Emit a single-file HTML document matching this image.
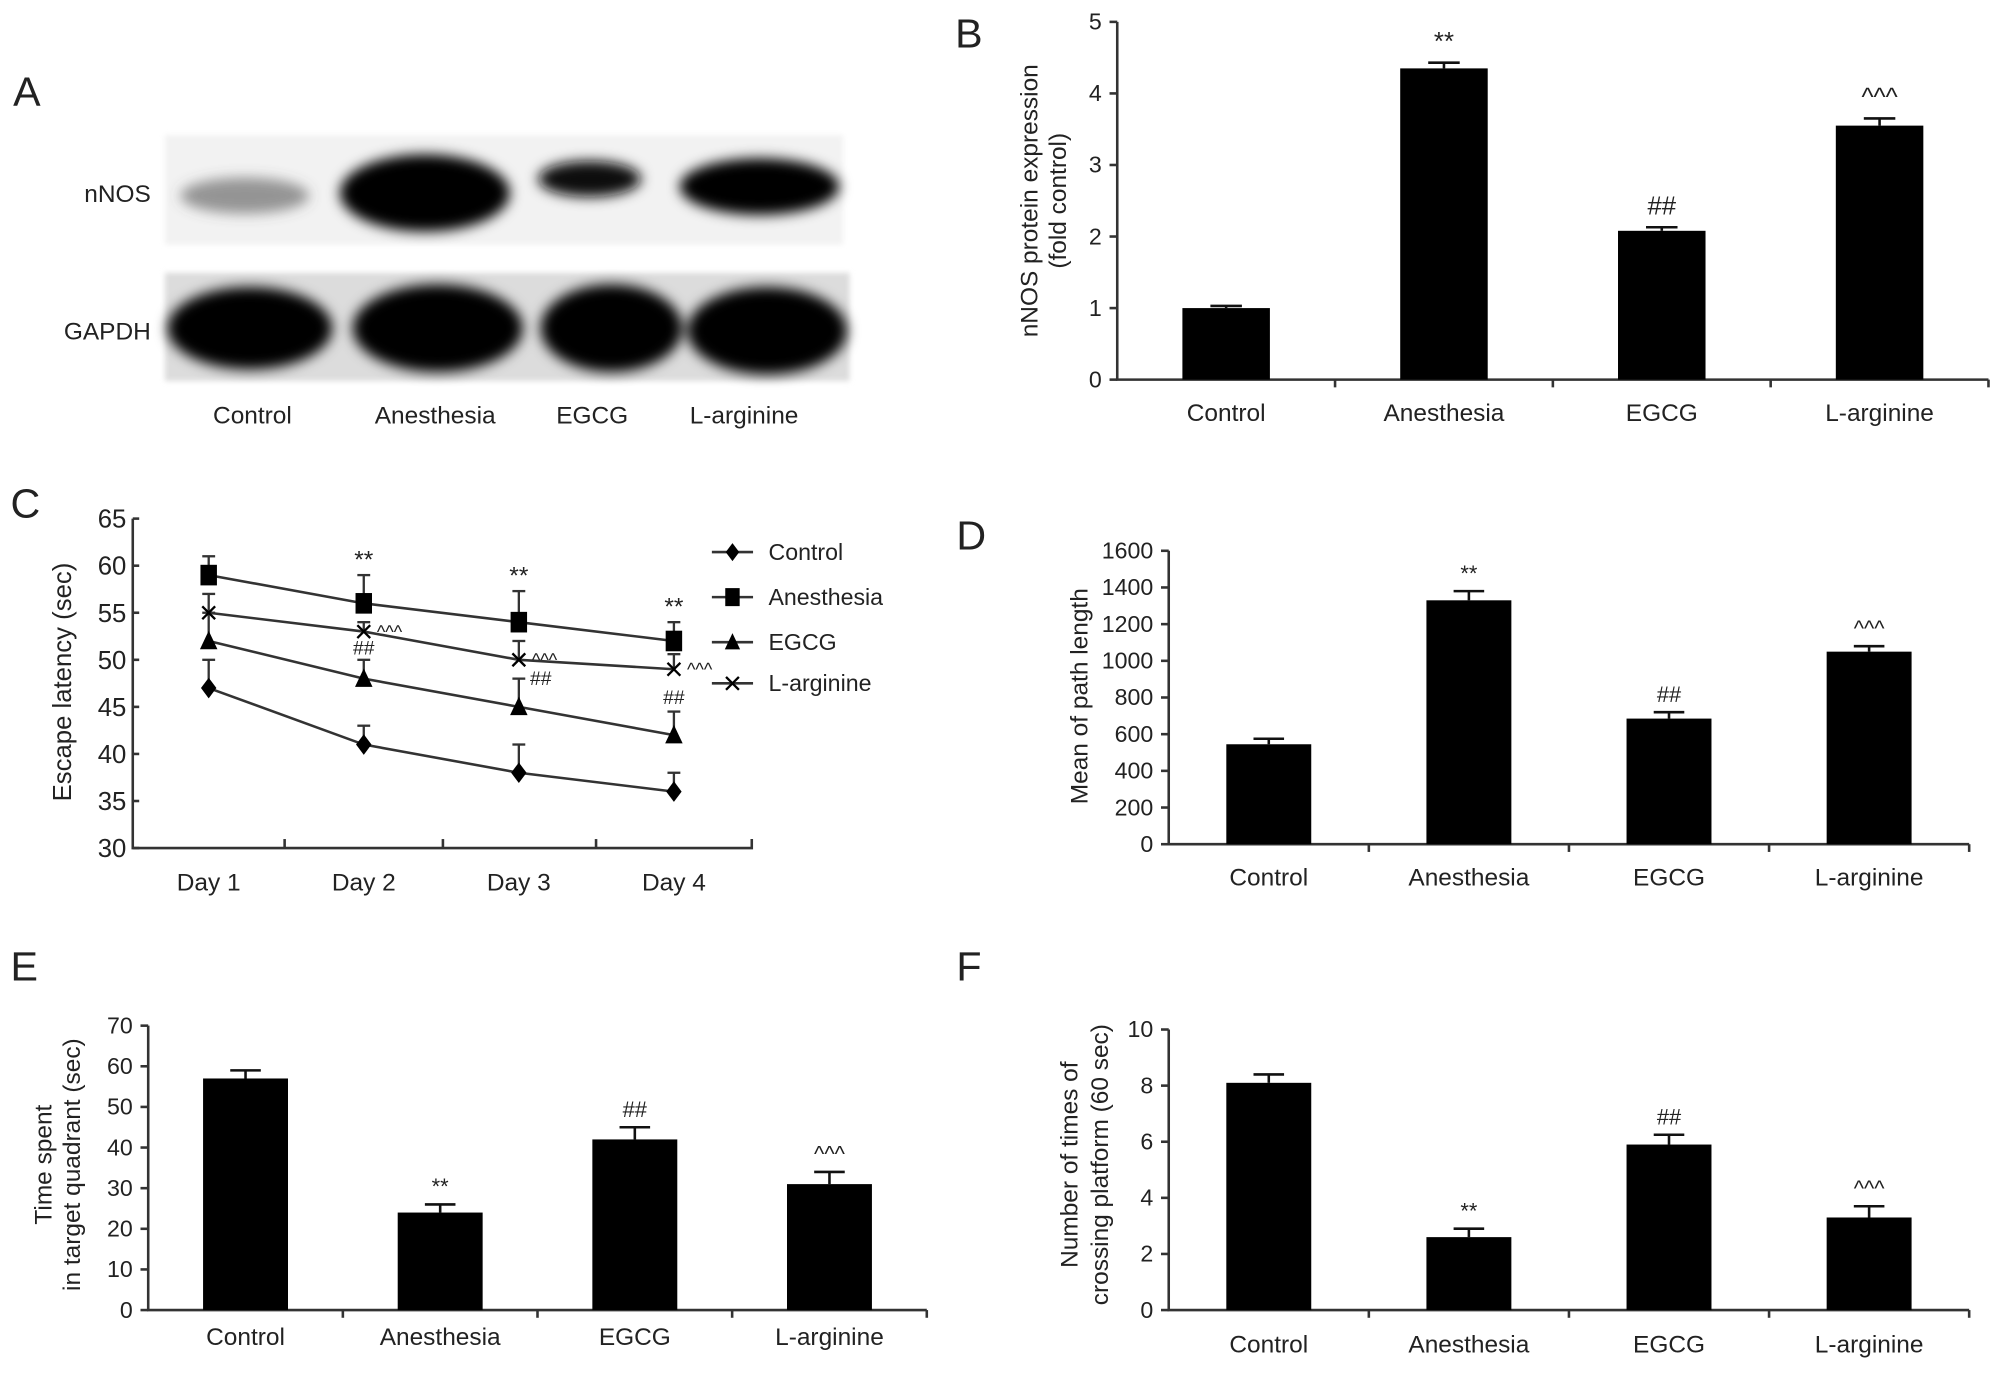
<!DOCTYPE html>
<html><head><meta charset="utf-8"><style>
html,body{margin:0;padding:0;background:#fff}
svg{display:block}
text{font-family:"Liberation Sans",Arial,sans-serif;fill:#222}
</style></head><body>
<svg id="fig" width="2008" height="1395" viewBox="0 0 1560 1084" xmlns="http://www.w3.org/2000/svg">
<defs>
<filter id="blur" x="-20%" y="-40%" width="140%" height="180%"><feGaussianBlur stdDeviation="5"/></filter>
<filter id="blur2" x="-10%" y="-10%" width="120%" height="120%"><feGaussianBlur stdDeviation="2"/></filter>
</defs>
<g id="panelA">
<text x="10" y="82" font-size="32">A</text>
<rect x="128" y="105" width="527" height="85" fill="#f2f2f2" filter="url(#blur2)"/>
<rect x="128" y="212" width="532" height="84" fill="#dcdcdc" filter="url(#blur2)"/>
<g filter="url(#blur)">
<ellipse cx="190" cy="152" rx="50" ry="14" fill="#555" opacity="0.6"/>
<ellipse cx="330" cy="150" rx="66" ry="30" fill="#000"/>
<ellipse cx="458" cy="139" rx="40" ry="14" fill="#111"/>
<ellipse cx="590" cy="145" rx="62" ry="22" fill="#000"/>
<ellipse cx="194" cy="255" rx="64" ry="32" fill="#000"/>
<ellipse cx="340" cy="255" rx="66" ry="34" fill="#000"/>
<ellipse cx="475" cy="255" rx="55" ry="34" fill="#000"/>
<ellipse cx="596" cy="257" rx="62" ry="34" fill="#000"/>
</g>
<text x="117" y="157" font-size="19" text-anchor="end">nNOS</text>
<text x="117" y="264" font-size="19" text-anchor="end">GAPDH</text>
<text x="196" y="329" font-size="19" text-anchor="middle">Control</text>
<text x="338" y="329" font-size="19" text-anchor="middle">Anesthesia</text>
<text x="460" y="329" font-size="19" text-anchor="middle">EGCG</text>
<text x="578" y="329" font-size="19" text-anchor="middle">L-arginine</text>
</g>
</svg>
<script>
const NS='http://www.w3.org/2000/svg';
const svg=document.getElementById('fig');
const groups=['Control','Anesthesia','EGCG','L-arginine'];
// Panel B
const bVals=[1.0,4.35,2.08,3.55];
const bErr=[0.03,0.08,0.05,0.1];
const bMarks=['','**','##','^^^'];
const bTicks=[0,1,2,3,4,5];
// Panel D
const dVals=[545,1330,685,1050];
const dErr=[30,50,35,30];
const dMarks=['','**','##','^^^'];
const dTicks=[0,200,400,600,800,1000,1200,1400,1600];
// Panel E
const eVals=[57,24,42,31];
const eErr=[2,2,3,3];
const eMarks=['','**','##','^^^'];
const eTicks=[0,10,20,30,40,50,60,70];
// Panel F
const fVals=[8.1,2.6,5.9,3.3];
const fErr=[0.3,0.3,0.35,0.4];
const fMarks=['','**','##','^^^'];
const fTicks=[0,2,4,6,8,10];
// Panel C
const days=['Day 1','Day 2','Day 3','Day 4'];
const cTicks=[30,35,40,45,50,55,60,65];
const cControl=[47,41,38,36];
const cControlErr=[3,2,3,2];
const cAnes=[59,56,54,52];
const cAnesErr=[2,3,3.3,2];
const cEgcg=[52,48,45,42];
const cEgcgErr=[3,2,3,2.5];
const cLarg=[55,53,50,49];
const cLargErr=[2,1,2,1.6];

function mk(tag,attrs,parent){const e=document.createElementNS(NS,tag);for(const k in attrs)e.setAttribute(k,attrs[k]);(parent||svg).appendChild(e);return e;}
function txt(x,y,s,size,anchor,parent,rot){const t=mk('text',{x:x,y:y,'font-size':size,'text-anchor':anchor||'middle'},parent);if(rot)t.setAttribute('transform','rotate(-90 '+x+' '+y+')');t.textContent=s;return t;}

function barChart(o){
  const g=mk('g',{});
  
  
  const max=o.ticks[o.ticks.length-1];
  const y=v=>o.y0-(v/max)*(o.y0-o.yTop);
  const step=(o.x1-o.x0)/o.vals.length;
  const ax=mk('path',{d:'M'+o.x0+' '+o.yTop+' V'+o.y0+' H'+o.x1,stroke:'#333','stroke-width':2,fill:'none'},g);
  
  
  o.ticks.forEach(t=>{
    mk('line',{x1:o.x0-6,x2:o.x0,y1:y(t),y2:y(t),stroke:'#333','stroke-width':2},g);
    const l=txt(o.x0-12,y(t)+6,String(t),18,'end',g);
    
    
  });
  for(let k=1;k<=o.vals.length;k++) mk('line',{x1:o.x0+step*k,x2:o.x0+step*k,y1:o.y0,y2:o.y0+6,stroke:'#333','stroke-width':2},g);
  o.vals.forEach((v,i)=>{
    const cx=o.x0+step*(i+0.5);
    const bw=o.bw;
    const top=y(v), et=y(v+o.err[i]);
    mk('line',{x1:cx,x2:cx,y1:top,y2:et,stroke:'#111','stroke-width':2},g);
    mk('line',{x1:cx-bw*0.18,x2:cx+bw*0.18,y1:et,y2:et,stroke:'#111','stroke-width':2},g);
    const r=mk('rect',{x:cx-bw/2,y:top,width:bw,height:o.y0-top,fill:'#000'},g);
    
    
    const l=txt(cx,o.y0+o.labOff,groups[i],19,'middle',g);
    
    
    if(o.marks[i]){
      const m=txt(cx,et-o.markGap,o.marks[i],o.markSize,'middle',g);
      
      
    }
  });
  o.title.forEach((s,j)=>{
    const t=txt(o.titleX[j],o.titleY,s,19,'middle',g,true);
    
    
  });
  const p=txt(o.letter[0],o.letter[1],o.letter[2],32,'start',g);
  
  
}

barChart({name:'panel-b-nnos-chart',vals:bVals,err:bErr,marks:bMarks,ticks:bTicks,x0:868,x1:1545,y0:295,yTop:17,bw:68,labOff:32,markGap:10,markSize:20,title:['nNOS protein expression','(fold control)'],titleX:[806,828],titleY:156,letter:[742,37,'B']});
barChart({name:'panel-d-path-length-chart',vals:dVals,err:dErr,marks:dMarks,ticks:dTicks,x0:908,x1:1530,y0:656,yTop:428,bw:66,labOff:32,markGap:8,markSize:17,title:['Mean of path length'],titleX:[845],titleY:541,letter:[743,427,'D']});
barChart({name:'panel-e-time-quadrant-chart',vals:eVals,err:eErr,marks:eMarks,ticks:eTicks,x0:115,x1:720,y0:1018,yTop:797,bw:66,labOff:27,markGap:8,markSize:17,title:['Time spent','in target quadrant (sec)'],titleX:[40,62],titleY:905,letter:[8,762,'E']});
barChart({name:'panel-f-crossing-chart',vals:fVals,err:fErr,marks:fMarks,ticks:fTicks,x0:908,x1:1530,y0:1018,yTop:800,bw:66,labOff:33,markGap:8,markSize:17,title:['Number of times of','crossing platform (60 sec)'],titleX:[837,861],titleY:905,letter:[743,762,'F']});

// Panel C line chart
(function(){
  const g=mk('g',{});
  
  
  const x0=103,x1=584,y0=659,yTop=403,min=30,max=65;
  const y=v=>y0-(v-min)/(max-min)*(y0-yTop);
  const x=i=>162+i*120.5;
  const ax=mk('path',{d:'M'+x0+' '+yTop+' V'+y0+' H'+x1+' V'+(y0-7),stroke:'#333','stroke-width':2,fill:'none'},g);
  
  
  [221,344,463].forEach(tx=>mk('line',{x1:tx,x2:tx,y1:y0,y2:y0-7,stroke:'#333','stroke-width':2},g));
  cTicks.forEach(t=>{
    mk('line',{x1:x0,x2:x0+5,y1:y(t),y2:y(t),stroke:'#333','stroke-width':2},g);
    const l=txt(x0-5,y(t)+7,String(t),20,'end',g);
    
    
  });
  days.forEach((d,i)=>{
    const l=txt(x(i),y0+33,d,19,'middle',g);
    
    
  });
  function marker(type,cx,cy,s,parent){
    if(type==='diamond') return mk('path',{d:`M${cx} ${cy-s} L${cx+s*0.75} ${cy} L${cx} ${cy+s} L${cx-s*0.75} ${cy}Z`,fill:'#000'},parent);
    if(type==='square') return mk('rect',{x:cx-s*0.8,y:cy-s,width:s*1.6,height:s*2,fill:'#000'},parent);
    if(type==='triangle') return mk('path',{d:`M${cx} ${cy-s} L${cx+s*0.85} ${cy+s*0.8} L${cx-s*0.85} ${cy+s*0.8}Z`,fill:'#000'},parent);
    return mk('path',{d:`M${cx-5} ${cy-5} L${cx+5} ${cy+5} M${cx-5} ${cy+5} L${cx+5} ${cy-5}`,stroke:'#000','stroke-width':1.8},parent);
  }
  const series=[['control',cControl,cControlErr,'diamond'],['anesthesia',cAnes,cAnesErr,'square'],['egcg',cEgcg,cEgcgErr,'triangle'],['l-arginine',cLarg,cLargErr,'x']];
  series.forEach(s=>{
    const sg=mk('g',{},g);
    
    
    const pl=mk('polyline',{points:s[1].map((v,i)=>x(i)+','+y(v)).join(' '),fill:'none',stroke:'#333','stroke-width':2},sg);
    
    
    s[1].forEach((v,i)=>{
      const et=y(v+s[2][i]);
      mk('line',{x1:x(i),x2:x(i),y1:y(v),y2:et,stroke:'#333','stroke-width':1.8},sg);
      mk('line',{x1:x(i)-5,x2:x(i)+5,y1:et,y2:et,stroke:'#333','stroke-width':1.8},sg);
      const m=marker(s[3],x(i),y(v),8,sg);
      
      
    });
  });
  function mark(s,px,py,size){const m=txt(px,py,s,size||17,'middle',g);}
  for(let i=1;i<4;i++) mark('**',x(i),y(cAnes[i]+cAnesErr[i])-6,19);
  for(let i=1;i<4;i++) mark('^^^',x(i)+20,y(cLarg[i])+5,14);
  mark('##',x(1),y(cEgcg[1]+cEgcgErr[1])-4,15);
  mark('##',x(2)+17,y(cEgcg[2]+cEgcgErr[2])+5,15);
  mark('##',x(3),y(cEgcg[3]+cEgcgErr[3])-6,15);
  const lg=mk('g',{},g);
  
  
  const labels=['Control','Anesthesia','EGCG','L-arginine'];
  const ly=[429,464,499,531];
  series.forEach((s,i)=>{
    const eg=mk('g',{},lg);
    
    
    mk('line',{x1:553,x2:585,y1:ly[i],y2:ly[i],stroke:'#333','stroke-width':2},eg);
    marker(s[3],569,ly[i],7,eg);
    txt(597,ly[i]+6,labels[i],18,'start',eg);
  });
  const t=txt(55,530,'Escape latency (sec)',20,'middle',g,true);
  
  
  const p=txt(8,402,'C',32,'start',g);
  
  
})();
</script>
</body></html>
